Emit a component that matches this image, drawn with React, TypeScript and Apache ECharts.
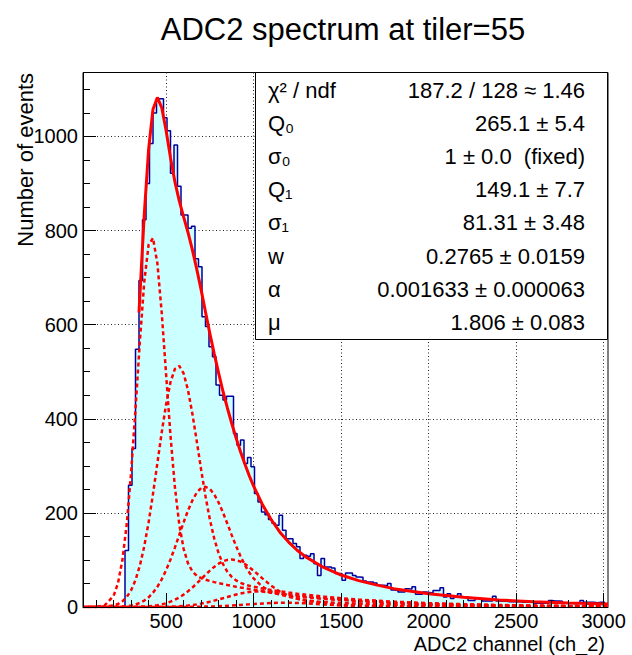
import React, { useEffect, useRef } from "react";
import * as echarts from "echarts";

const FONT = '"Liberation Sans", Arial, Helvetica, sans-serif';

const TITLE = "ADC2 spectrum at tiler=55";
const X_TITLE = "ADC2 channel (ch_2)";
const Y_TITLE = "Number of events";

// histogram binning (ADC channels)
const BIN_LOW = 25;
const BIN_WIDTH = 20;
const HIST_COUNTS = [
  0, 0, 0, 0, 0, 0, 0, 0, 0, 0, 0, 0,
  120, 259, 337, 548, 694, 823, 900, 985, 1050, 1080, 1080, 1040, 1012, 922,
  982, 894, 833, 833, 805, 809, 740, 723, 617, 596, 553, 532, 472, 450,
  440, 448, 448, 369, 344, 355, 305, 318, 298, 241, 223, 202, 196, 186,
  178, 174, 195, 163, 145, 145, 135, 128, 103, 110, 108, 113, 92, 67,
  103, 85, 85, 83, 71, 71, 57, 72, 72, 67, 64, 63, 55, 53,
  53, 51, 46, 46, 45, 50, 36, 35, 32, 32, 39, 38, 43, 27,
  27, 32, 31, 30, 35, 35, 41, 21, 28, 18, 23, 28, 21, 21,
  14, 14, 18, 18, 13, 13, 13, 23, 13, 13, 12, 11, 11, 11,
  11, 10, 10, 10, 10, 8, 8, 8, 8, 14, 13, 13, 12, 8,
  8, 8, 7, 8, 14, 10, 10, 10, 9, 10, 10, 7,
];

// axis ticks
const X_MIN = 25;
const X_MAX = 3025;
const Y_MIN = 0;
const Y_MAX = 1136;
const X_MAJOR = [500, 1000, 1500, 2000, 2500, 3000];
const X_MINOR = [100, 200, 300, 400, 600, 700, 800, 900, 1100, 1200, 1300, 1400, 1600, 1700, 1800, 1900, 2100, 2200, 2300, 2400, 2600, 2700, 2800, 2900];
const Y_MAJOR = [0, 200, 400, 600, 800, 1000];
const Y_MINOR = [50, 100, 150, 250, 300, 350, 450, 500, 550, 650, 700, 750, 850, 900, 950, 1050, 1100];

// fit components (n photo-electron terms), sampled along x
const CURVE_X = [25, 100, 150, 200, 225, 250, 275, 300, 325, 350, 375, 400, 425, 450, 475, 500, 525, 550, 575, 600, 625, 650, 675, 700, 725, 750, 775, 800, 825, 850, 875, 900, 925, 950, 975, 1000, 1050, 1100, 1150, 1200, 1250, 1300, 1400, 1500, 1600, 1700, 1800, 1900, 2000, 2200, 2400, 2600, 2800, 3025];
const PE1 = [0, 0.4, 3.9, 23.7, 50.8, 99.3, 176.4, 285.6, 420.8, 564.7, 690.6, 770.2, 784.1, 730.4, 624.8, 493.5, 363.9, 255.4, 175.8, 123.7, 92.8, 75.7, 66.5, 61.3, 57.9, 55.2, 52.9, 50.8, 48.8, 46.8, 44.9, 43.1, 41.4, 39.8, 38.2, 36.6, 33.8, 31.1, 28.7, 26.4, 24.4, 22.4, 19.1, 16.2, 13.8, 11.7, 9.9, 8.4, 7.2, 5.2, 3.7, 2.7, 1.9, 1.3];
const PE2 = [0, 0.1, 0.8, 3.3, 6.4, 12.0, 21.1, 35.7, 57.3, 88.0, 128.9, 180.1, 240.3, 305.8, 371.6, 431.1, 477.8, 506.0, 512.3, 496.4, 460.9, 410.8, 352.5, 292.2, 235.4, 185.9, 145.4, 114.0, 91.1, 74.9, 64.0, 56.5, 51.4, 47.9, 45.2, 43.0, 39.3, 36.2, 33.3, 30.7, 28.3, 26.1, 22.2, 18.8, 16.0, 13.6, 11.5, 9.8, 8.3, 6.0, 4.3, 3.1, 2.3, 1.6];
const PE3 = [0, 0, 0.1, 0.3, 0.6, 1.1, 1.9, 3.3, 5.5, 8.8, 13.7, 20.7, 30.3, 42.9, 58.8, 78.3, 101.0, 126.3, 153.1, 179.9, 205.0, 226.6, 243.1, 253.0, 255.5, 250.8, 239.2, 222.0, 200.6, 177.1, 152.8, 129.4, 108.0, 89.2, 73.4, 60.8, 43.0, 33.1, 27.6, 24.4, 22.1, 20.2, 17.2, 14.6, 12.4, 10.5, 8.9, 7.6, 6.4, 4.7, 3.4, 2.4, 1.7, 1.2];
const PE4 = [0, 0, 0, 0, 0, 0, 0.1, 0.2, 0.4, 0.7, 1.1, 1.7, 2.6, 3.9, 5.6, 8.0, 11.3, 15.3, 20.4, 26.3, 33.4, 41.3, 50.1, 59.2, 68.5, 77.2, 85.3, 92.0, 97.1, 100.1, 101.1, 99.7, 96.4, 91.3, 84.7, 77.2, 60.9, 45.4, 32.8, 23.7, 17.7, 14.0, 10.3, 8.5, 7.2, 6.1, 5.2, 4.4, 3.7, 2.7, 1.9, 1.4, 1.0, 0.7];
const PE5 = [0, 0, 0, 0, 0, 0, 0, 0, 0, 0, 0, 0.1, 0.2, 0.3, 0.4, 0.6, 0.9, 1.2, 1.7, 2.4, 3.3, 4.3, 5.6, 7.2, 9.1, 11.2, 13.5, 16.0, 18.7, 21.4, 24.0, 26.5, 28.6, 30.5, 31.9, 32.7, 32.7, 30.5, 26.7, 22.1, 17.3, 13.2, 7.5, 4.7, 3.5, 2.8, 2.4, 2.1, 1.7, 1.3, 0.9, 0.7, 0.5, 0.3];
const PE6 = [0, 0, 0, 0, 0, 0, 0, 0, 0, 0, 0, 0, 0, 0, 0, 0, 0, 0.1, 0.1, 0.2, 0.2, 0.3, 0.4, 0.6, 0.8, 1.0, 1.3, 1.7, 2.1, 2.6, 3.1, 3.7, 4.3, 5.0, 5.6, 6.3, 7.5, 8.5, 9.0, 9.1, 8.6, 7.7, 5.4, 3.3, 2.0, 1.3, 0.9, 0.8, 0.7, 0.5, 0.4, 0.3, 0.2, 0.1];

// total fit function over the fit range
const FIT_X = [345, 350, 375, 400, 425, 450, 475, 500, 525, 550, 575, 600, 625, 650, 675, 700, 725, 750, 775, 800, 825, 850, 875, 900, 925, 950, 975, 1000, 1050, 1100, 1150, 1200, 1250, 1300, 1400, 1500, 1600, 1700, 1800, 1900, 2000, 2200, 2400, 2600, 2800, 3025];
const FIT_Y = [626, 662, 834, 973, 1058, 1083, 1061, 1012, 955, 904, 863, 829, 796, 759, 718, 674, 627, 581, 538, 497, 458, 423, 390, 359, 330, 304, 279, 257, 218, 186, 159, 138, 120, 106, 84, 68, 56, 47, 39, 33.4, 28.3, 20.5, 15, 11.2, 8.4, 6.5];

// fit statistics box
const STATS_LABELS = ["χ² / ndf", "Q₀", "σ₀", "Q₁", "σ₁", "w", "α", "μ"];
const STATS_VALUES = [
  "187.2 / 128 ≈ 1.46",
  "265.1 ± 5.4",
  "1 ± 0.0  (fixed)",
  "149.1 ± 7.7",
  "81.31 ± 3.48",
  "0.2765 ± 0.0159",
  "0.001633 ± 0.000063",
  "1.806 ± 0.083",
];

const HIST_LINE = "#00009c";
const HIST_FILL = "#ccffff";
const FIT_COLOR = "#ff0000";

export default function App() {
  const ref = useRef<HTMLDivElement>(null);

  useEffect(() => {
    if (!ref.current) return;
    const chart = echarts.init(ref.current, null, { renderer: "svg" });

    const histData: number[][] = HIST_COUNTS.map((c, k) => [BIN_LOW + k * BIN_WIDTH, c]);
    histData.push([BIN_LOW + HIST_COUNTS.length * BIN_WIDTH, HIST_COUNTS[HIST_COUNTS.length - 1]]);

    const components = [PE1, PE2, PE3, PE4, PE5, PE6];
    const offsets = [0, 1.5, 3, 4.5, 2, 5];

    const gridLine = { show: true, lineStyle: { color: "#222", width: 1, type: [1, 2.5] as any } };
    const plain = (v: number) => String(v);

    const baseX = { type: "value", min: X_MIN, max: X_MAX, position: "bottom", gridIndex: 0 };
    const baseY = { type: "value", min: Y_MIN, max: Y_MAX, position: "left", gridIndex: 0 };

    const compSeries = components.map((arr, i) => ({
      type: "line",
      name: "pe" + (i + 1),
      xAxisIndex: 1,
      yAxisIndex: 1,
      data: CURVE_X.map((x, j) => [x, arr[j]]),
      symbol: "none",
      silent: true,
      lineStyle: { color: FIT_COLOR, width: 2.5, type: [4, 3], dashOffset: offsets[i] },
      z: 3,
    }));

    const statsGraphics: any[] = [
      {
        type: "rect",
        shape: { x: 255.5, y: 72.5, width: 352, height: 267 },
        style: { fill: "#ffffff", stroke: "#000000", lineWidth: 1 },
        z: 100,
      },
    ];
    STATS_LABELS.forEach((lab, i) => {
      const y = 90 + i * 33.2;
      statsGraphics.push({
        type: "text",
        x: 268,
        y,
        z: 101,
        style: { text: lab, fontSize: 22, fontFamily: FONT, fill: "#000", align: "left", verticalAlign: "middle" },
      });
      statsGraphics.push({
        type: "text",
        x: 585,
        y,
        z: 101,
        style: { text: STATS_VALUES[i], fontSize: 22, fontFamily: FONT, fill: "#000", align: "right", verticalAlign: "middle" },
      });
    });

    const option: any = {
      animation: false,
      backgroundColor: "#ffffff",
      textStyle: { fontFamily: FONT },
      grid: {
        left: 83,
        right: 24,
        top: 72.5,
        bottom: 48,
        show: true,
        borderColor: "#000",
        borderWidth: 1,
        backgroundColor: "transparent",
        containLabel: false,
        outerBoundsMode: "none",
      },
      xAxis: [
        {
          ...baseX,
          z: 0,
          axisLine: { show: false },
          axisTick: { show: false, customValues: X_MAJOR },
          axisLabel: { show: false, customValues: X_MAJOR },
          splitLine: gridLine,
        },
        {
          ...baseX,
          z: 10,
          axisLine: { show: true, onZero: false, lineStyle: { color: "#000", width: 1 } },
          axisTick: { show: true, inside: true, length: 14, customValues: X_MAJOR, lineStyle: { color: "#000", width: 1 } },
          axisLabel: { show: true, customValues: X_MAJOR, fontSize: 20, color: "#000", fontFamily: FONT, margin: 4, formatter: plain },
          splitLine: { show: false },
        },
        {
          ...baseX,
          z: 10,
          axisLine: { show: false },
          axisTick: { show: true, inside: true, length: 7, customValues: X_MINOR, lineStyle: { color: "#000", width: 1 } },
          axisLabel: { show: false },
          splitLine: { show: false },
        },
      ],
      yAxis: [
        {
          ...baseY,
          z: 0,
          axisLine: { show: false },
          axisTick: { show: false, customValues: Y_MAJOR },
          axisLabel: { show: false, customValues: Y_MAJOR },
          splitLine: gridLine,
        },
        {
          ...baseY,
          z: 10,
          axisLine: { show: true, onZero: false, lineStyle: { color: "#000", width: 1 } },
          axisTick: { show: true, inside: true, length: 13, customValues: Y_MAJOR, lineStyle: { color: "#000", width: 1 } },
          axisLabel: { show: true, customValues: Y_MAJOR, fontSize: 20, color: "#000", fontFamily: FONT, margin: 5, formatter: plain },
          splitLine: { show: false },
        },
        {
          ...baseY,
          z: 10,
          axisLine: { show: false },
          axisTick: { show: true, inside: true, length: 7, customValues: Y_MINOR, lineStyle: { color: "#000", width: 1 } },
          axisLabel: { show: false },
          splitLine: { show: false },
        },
      ],
      series: [
        {
          type: "line",
          name: "histogram",
          xAxisIndex: 1,
          yAxisIndex: 1,
          data: histData,
          step: "end",
          symbol: "none",
          silent: true,
          lineStyle: { color: HIST_LINE, width: 1.5 },
          areaStyle: { color: HIST_FILL, opacity: 1 },
          z: 2,
        },
        ...compSeries,
        {
          type: "line",
          name: "fit",
          xAxisIndex: 1,
          yAxisIndex: 1,
          data: FIT_X.map((x, i) => [x, FIT_Y[i]]),
          symbol: "none",
          silent: true,
          lineStyle: { color: FIT_COLOR, width: 3 },
          z: 4,
        },
      ],
      graphic: [
        {
          type: "text",
          x: 343,
          y: 29,
          z: 100,
          style: { text: TITLE, fontSize: 31, fontFamily: FONT, fill: "#000", align: "center", verticalAlign: "middle" },
        },
        {
          type: "text",
          x: 605,
          y: 643.5,
          z: 100,
          style: { text: X_TITLE, fontSize: 20, fontFamily: FONT, fill: "#000", align: "right", verticalAlign: "middle" },
        },
        {
          type: "text",
          x: 25,
          y: 73,
          rotation: Math.PI / 2,
          z: 100,
          style: { text: Y_TITLE, fontSize: 22, fontFamily: FONT, fill: "#000", align: "right", verticalAlign: "middle" },
        },
        ...statsGraphics,
      ],
    };

    chart.setOption(option);
    return () => chart.dispose();
  }, []);

  return (
    <div
      ref={ref}
      style={{ position: "fixed", left: 0, top: 0, width: 632, height: 655, background: "#fff" }}
    />
  );
}
